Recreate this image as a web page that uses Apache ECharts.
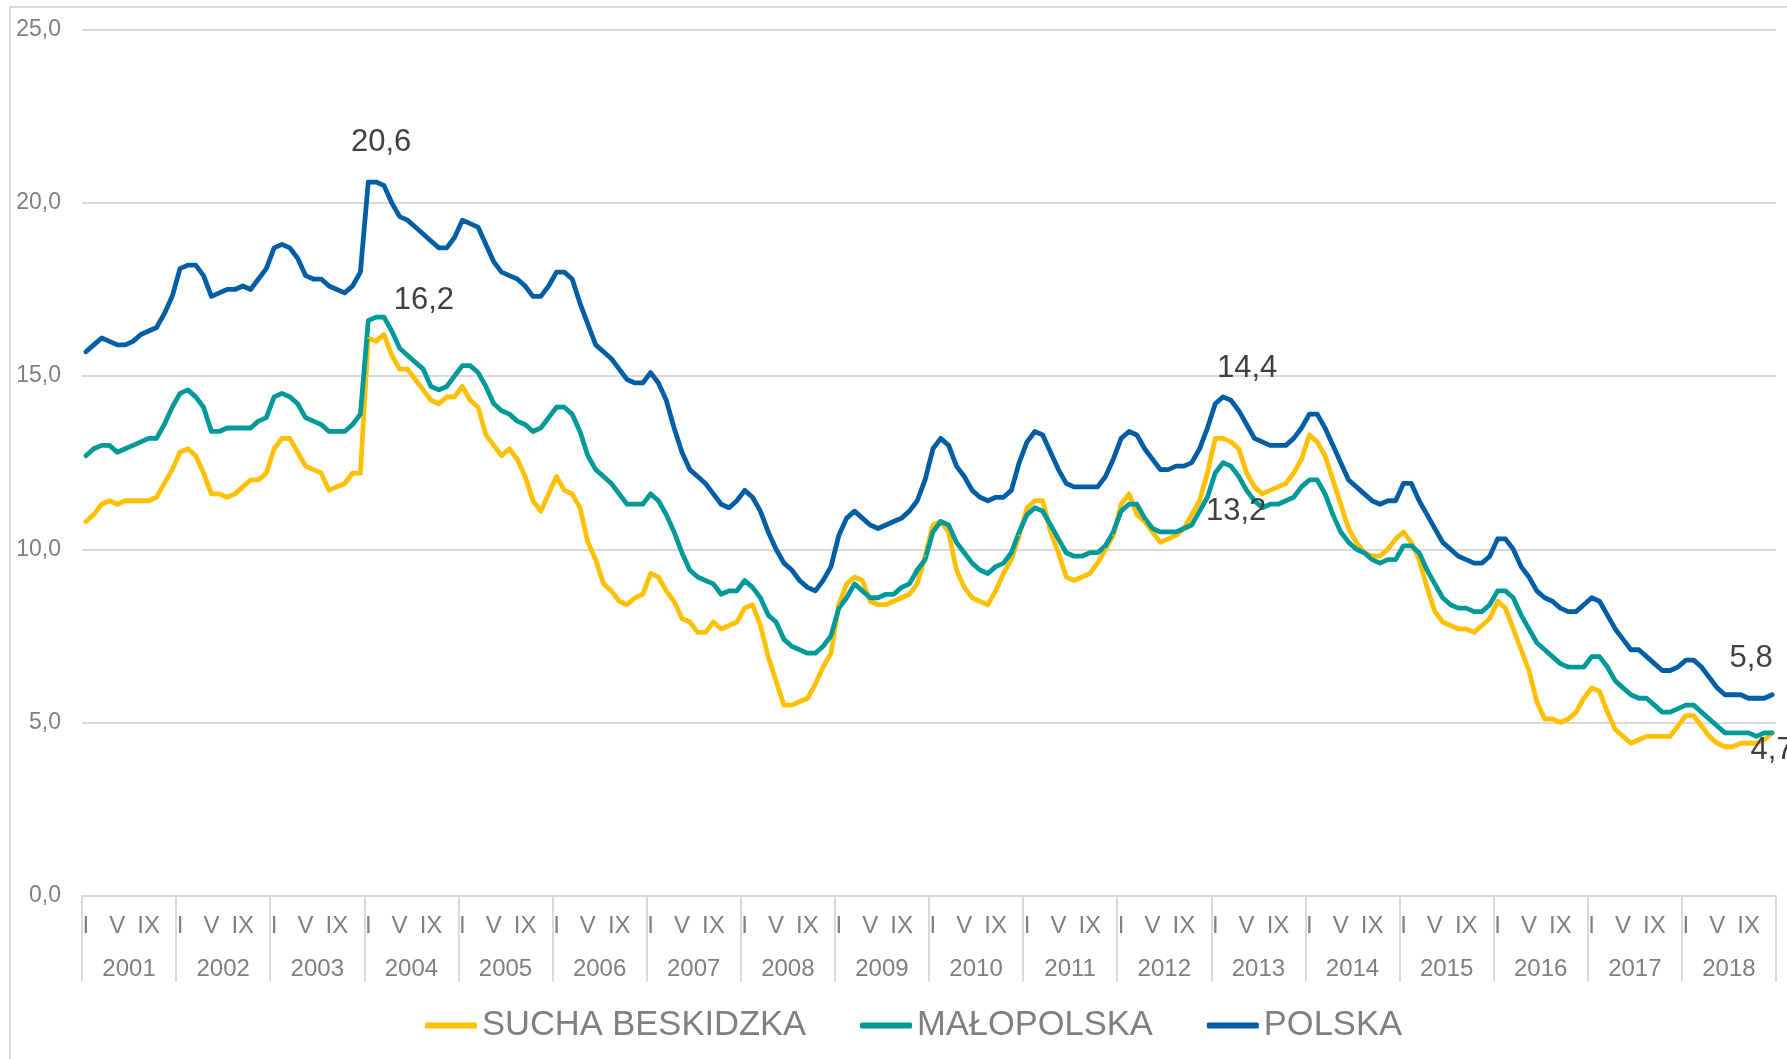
<!DOCTYPE html>
<html>
<head>
<meta charset="utf-8">
<title>Stopa bezrobocia 2001-2018</title>
<script src="https://cdn.jsdelivr.net/npm/echarts@6/dist/echarts.min.js"></script>
<style>
    html, body { margin: 0; padding: 0; background: #fff; overflow: hidden; }
    #main { width: 1787px; height: 1059px; }
</style>
</head>
<body>
<div id="main"></div>
<script>
// lata i miesiace (os X)
var years = ['2001', '2002', '2003', '2004', '2005', '2006', '2007', '2008', '2009',
    '2010', '2011', '2012', '2013', '2014', '2015', '2016', '2017', '2018'];
var monthLabels = ['I', 'II', 'III', 'IV', 'V', 'VI', 'VII', 'VIII', 'IX', 'X', 'XI', 'XII'];
var shownMonths = [0, 4, 8];
var yTicks = [0, 5, 10, 15, 20, 25];

// stopa bezrobocia, dane miesieczne
var sucha = [
    10.8, 11.0, 11.3, 11.4, 11.3, 11.4, 11.4, 11.4, 11.4, 11.5, 11.9, 12.3,
    12.8, 12.9, 12.7, 12.2, 11.6, 11.6, 11.5, 11.6, 11.8, 12.0, 12.0, 12.2,
    12.9, 13.2, 13.2, 12.8, 12.4, 12.3, 12.2, 11.7, 11.8, 11.9, 12.2, 12.2,
    16.1, 16.0, 16.2, 15.6, 15.2, 15.2, 14.9, 14.6, 14.3, 14.2, 14.4, 14.4,
    14.7, 14.3, 14.1, 13.3, 13.0, 12.7, 12.9, 12.6, 12.1, 11.4, 11.1, 11.6,
    12.1, 11.7, 11.6, 11.2, 10.2, 9.7, 9.0, 8.8, 8.5, 8.4, 8.6, 8.7,
    9.3, 9.2, 8.8, 8.5, 8.0, 7.9, 7.6, 7.6, 7.9, 7.7, 7.8, 7.9,
    8.3, 8.4, 7.8, 6.9, 6.2, 5.5, 5.5, 5.6, 5.7, 6.1, 6.6, 7.0,
    8.4, 9.0, 9.2, 9.1, 8.5, 8.4, 8.4, 8.5, 8.6, 8.7, 9.0, 9.8,
    10.7, 10.8, 10.5, 9.4, 8.9, 8.6, 8.5, 8.4, 8.8, 9.3, 9.7, 10.4,
    11.2, 11.4, 11.4, 10.5, 9.9, 9.2, 9.1, 9.2, 9.3, 9.6, 10.0, 10.4,
    11.3, 11.6, 11.0, 10.8, 10.5, 10.2, 10.3, 10.4, 10.6, 11.0, 11.4, 12.2,
    13.2, 13.2, 13.1, 12.9, 12.2, 11.8, 11.6, 11.7, 11.8, 11.9, 12.2, 12.6,
    13.3, 13.1, 12.7, 12.0, 11.3, 10.6, 10.2, 9.9, 9.8, 9.8, 10.0, 10.3,
    10.5, 10.2, 9.7, 8.9, 8.2, 7.9, 7.8, 7.7, 7.7, 7.6, 7.8, 8.0,
    8.5, 8.3, 7.7, 7.1, 6.5, 5.6, 5.1, 5.1, 5.0, 5.1, 5.3, 5.7,
    6.0, 5.9, 5.3, 4.8, 4.6, 4.4, 4.5, 4.6, 4.6, 4.6, 4.6, 4.9,
    5.2, 5.2, 4.9, 4.6, 4.4, 4.3, 4.3, 4.4, 4.4, 4.4, 4.5, 4.7
];
var malopolska = [
    12.7, 12.9, 13.0, 13.0, 12.8, 12.9, 13.0, 13.1, 13.2, 13.2, 13.6, 14.1,
    14.5, 14.6, 14.4, 14.1, 13.4, 13.4, 13.5, 13.5, 13.5, 13.5, 13.7, 13.8,
    14.4, 14.5, 14.4, 14.2, 13.8, 13.7, 13.6, 13.4, 13.4, 13.4, 13.6, 13.9,
    16.6, 16.7, 16.7, 16.3, 15.8, 15.6, 15.4, 15.2, 14.7, 14.6, 14.7, 15.0,
    15.3, 15.3, 15.1, 14.7, 14.2, 14.0, 13.9, 13.7, 13.6, 13.4, 13.5, 13.8,
    14.1, 14.1, 13.9, 13.4, 12.7, 12.3, 12.1, 11.9, 11.6, 11.3, 11.3, 11.3,
    11.6, 11.4, 11.0, 10.5, 9.9, 9.4, 9.2, 9.1, 9.0, 8.7, 8.8, 8.8,
    9.1, 8.9, 8.6, 8.1, 7.9, 7.4, 7.2, 7.1, 7.0, 7.0, 7.2, 7.5,
    8.3, 8.6, 9.0, 8.8, 8.6, 8.6, 8.7, 8.7, 8.9, 9.0, 9.4, 9.7,
    10.5, 10.8, 10.7, 10.2, 9.9, 9.6, 9.4, 9.3, 9.5, 9.6, 9.9, 10.5,
    11.0, 11.2, 11.1, 10.7, 10.3, 9.9, 9.8, 9.8, 9.9, 9.9, 10.1, 10.5,
    11.1, 11.3, 11.3, 10.9, 10.6, 10.5, 10.5, 10.5, 10.6, 10.7, 11.1, 11.5,
    12.2, 12.5, 12.4, 12.1, 11.7, 11.4, 11.2, 11.3, 11.3, 11.4, 11.5, 11.8,
    12.0, 12.0, 11.6, 11.0, 10.5, 10.2, 10.0, 9.9, 9.7, 9.6, 9.7, 9.7,
    10.1, 10.1, 9.9, 9.4, 9.0, 8.6, 8.4, 8.3, 8.3, 8.2, 8.2, 8.4,
    8.8, 8.8, 8.6, 8.1, 7.7, 7.3, 7.1, 6.9, 6.7, 6.6, 6.6, 6.6,
    6.9, 6.9, 6.6, 6.2, 6.0, 5.8, 5.7, 5.7, 5.5, 5.3, 5.3, 5.4,
    5.5, 5.5, 5.3, 5.1, 4.9, 4.7, 4.7, 4.7, 4.7, 4.6, 4.7, 4.7
];
var polska = [
    15.7, 15.9, 16.1, 16.0, 15.9, 15.9, 16.0, 16.2, 16.3, 16.4, 16.8, 17.3,
    18.1, 18.2, 18.2, 17.9, 17.3, 17.4, 17.5, 17.5, 17.6, 17.5, 17.8, 18.1,
    18.7, 18.8, 18.7, 18.4, 17.9, 17.8, 17.8, 17.6, 17.5, 17.4, 17.6, 18.0,
    20.6, 20.6, 20.5, 20.0, 19.6, 19.5, 19.3, 19.1, 18.9, 18.7, 18.7, 19.0,
    19.5, 19.4, 19.3, 18.8, 18.3, 18.0, 17.9, 17.8, 17.6, 17.3, 17.3, 17.6,
    18.0, 18.0, 17.8, 17.1, 16.5, 15.9, 15.7, 15.5, 15.2, 14.9, 14.8, 14.8,
    15.1, 14.8, 14.3, 13.5, 12.8, 12.3, 12.1, 11.9, 11.6, 11.3, 11.2, 11.4,
    11.7, 11.5, 11.1, 10.5, 10.0, 9.6, 9.4, 9.1, 8.9, 8.8, 9.1, 9.5,
    10.4, 10.9, 11.1, 10.9, 10.7, 10.6, 10.7, 10.8, 10.9, 11.1, 11.4, 12.0,
    12.9, 13.2, 13.0, 12.4, 12.1, 11.7, 11.5, 11.4, 11.5, 11.5, 11.7, 12.5,
    13.1, 13.4, 13.3, 12.8, 12.3, 11.9, 11.8, 11.8, 11.8, 11.8, 12.1, 12.6,
    13.2, 13.4, 13.3, 12.9, 12.6, 12.3, 12.3, 12.4, 12.4, 12.5, 12.9, 13.5,
    14.2, 14.4, 14.3, 14.0, 13.6, 13.2, 13.1, 13.0, 13.0, 13.0, 13.2, 13.5,
    13.9, 13.9, 13.5, 13.0, 12.5, 12.0, 11.8, 11.6, 11.4, 11.3, 11.4, 11.4,
    11.9, 11.9, 11.4, 11.0, 10.6, 10.2, 10.0, 9.8, 9.7, 9.6, 9.6, 9.8,
    10.3, 10.3, 10.0, 9.5, 9.2, 8.8, 8.6, 8.5, 8.3, 8.2, 8.2, 8.4,
    8.6, 8.5, 8.1, 7.7, 7.4, 7.1, 7.1, 6.9, 6.7, 6.5, 6.5, 6.6,
    6.8, 6.8, 6.6, 6.3, 6.0, 5.8, 5.8, 5.8, 5.7, 5.7, 5.7, 5.8
];

var FONT = '"Liberation Sans", Arial, sans-serif';
var GRAY = '#7f7f7f';
var LINE = '#d9d9d9';

// kategorie miesieczne
var categories = [];
years.forEach(function (y) {
    monthLabels.forEach(function (m) {
        categories.push(y + '-' + m);
    });
});

function fmt(v) {
    return v.toFixed(1).replace('.', ',');
}

// etykiety danych: indeks punktu -> przesuniecie
function withLabels(values, marks) {
    return values.map(function (v, i) {
        if (!marks[i]) return v;
        return {
            value: v,
            label: {
                show: true,
                position: 'inside',
                offset: marks[i],
                formatter: function (p) { return fmt(p.value); },
                fontSize: 31,
                fontFamily: FONT,
                color: '#404040'
            }
        };
    });
}

function lineSeries(name, color, values, marks) {
    return {
        name: name,
        type: 'line',
        data: withLabels(values, marks),
        symbol: 'circle',
        symbolSize: 2,
        showSymbol: true,
        showAllSymbol: true,
        itemStyle: { color: color },
        lineStyle: { color: color, width: 4.8, join: 'round', cap: 'round' },
        emphasis: { disabled: true },
        silent: true
    };
}

var myChart = echarts.init(document.getElementById('main'));

var option = {
    animation: false,
    backgroundColor: '#fff',
    graphic: [{
        type: 'rect',
        shape: { x: 10, y: 7, width: 1800, height: 1080 },
        style: { fill: null, stroke: LINE, lineWidth: 2 },
        silent: true
    }],
    color: ['#FFC000', '#00999A', '#005EA5'],
    legend: {
        left: 420,
        top: 1003,
        itemWidth: 52,
        itemHeight: 6,
        itemGap: 54,
        icon: 'roundRect',
        textStyle: { fontSize: 34.5, color: GRAY, fontFamily: FONT },
        data: ['SUCHA BESKIDZKA', 'MAŁOPOLSKA', 'POLSKA']
    },
    grid: { left: 82, right: 11, top: 29.6, bottom: 163.3 },
    xAxis: [{
        type: 'category',
        data: categories,
        boundaryGap: true,
        axisLine: { lineStyle: { color: LINE, width: 2 } },
        axisTick: { show: false },
        axisLabel: {
            interval: function (i) { return shownMonths.indexOf(i % 12) >= 0; },
            formatter: function (v, i) { return monthLabels[i % 12]; },
            margin: 19,
            fontSize: 24,
            color: GRAY,
            fontFamily: FONT
        }
    }, {
        type: 'category',
        data: years,
        position: 'bottom',
        boundaryGap: true,
        axisLine: { show: false },
        axisTick: { show: true, interval: 0, length: 86, lineStyle: { color: LINE, width: 2 } },
        axisLabel: { margin: 62, fontSize: 24, color: GRAY, fontFamily: FONT, interval: 0 }
    }],
    yAxis: {
        type: 'value',
        min: yTicks[0],
        max: yTicks[yTicks.length - 1],
        interval: 5,
        axisLine: { show: false },
        axisTick: { show: false },
        splitLine: { lineStyle: { color: LINE, width: 2 } },
        axisLabel: {
            formatter: function (v) { return fmt(v); },
            margin: 21,
            fontSize: 23,
            color: GRAY,
            fontFamily: FONT
        }
    },
    series: [
        lineSeries('SUCHA BESKIDZKA', '#FFC000', sucha, { 38: [40, -34], 145: [13, 73], 215: [0, 18] }),
        lineSeries('MAŁOPOLSKA', '#00999A', malopolska, {}),
        lineSeries('POLSKA', '#005EA5', polska, { 37: [5, -40], 145: [24, -28], 215: [-21, -36] })
    ]
};

myChart.setOption(option);
</script>
</body>
</html>
